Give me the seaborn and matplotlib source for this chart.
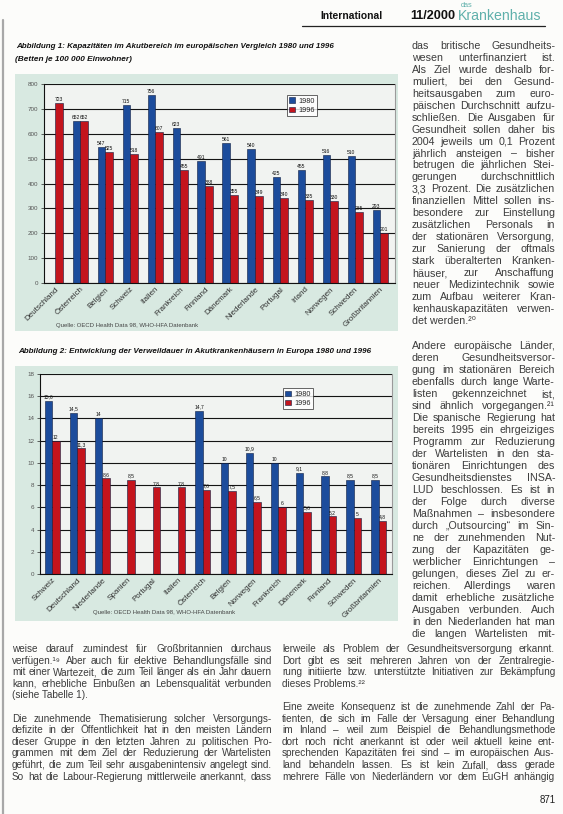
import numpy as np
import pandas as pd
import seaborn as sns
import matplotlib
matplotlib.use("Agg")
import matplotlib.pyplot as plt
from matplotlib.patches import Rectangle, Patch
from matplotlib.lines import Line2D
from matplotlib.font_manager import FontProperties

# ---------------- data ----------------
years = ["1980", "1996"]

countries1 = ["Deutschland", "Österreich", "Belgien", "Schweiz", "Italien", "Frankreich",
              "Finnland", "Dänemark", "Niederlande", "Portugal", "Irland", "Norwegen",
              "Schweden", "Großbritannien"]
beds_1980 = [np.nan, 652, 547, 715, 756, 623, 491, 561, 540, 425, 455, 516, 510, 293]
beds_1996 = [723, 652, 525, 518, 607, 455, 388, 355, 349, 340, 335, 330, 285, 201]
yticks1 = list(range(0, 801, 100))

countries2 = ["Schweiz", "Deutschland", "Niederlande", "Spanien", "Portugal", "Italien",
              "Österreich", "Belgien", "Norwegen", "Frankreich", "Dänemark", "Finnland",
              "Schweden", "Großbritannien"]
los_1980 = [15.6, 14.5, 14.0, np.nan, np.nan, np.nan, 14.7, 10.0, 10.9, 10.0, 9.1, 8.8, 8.5, 8.5]
los_1996 = [12.0, 11.3, 8.6, 8.5, 7.8, 7.8, 7.6, 7.5, 6.5, 6.0, 5.6, 5.2, 5.0, 4.8]
yticks2 = list(range(0, 19, 2))

title1 = "Abbildung 1: Kapazitäten im Akutbereich im europäischen Vergleich 1980 und 1996"
subtitle1 = "(Betten je 100 000 Einwohner)"
title2 = "Abbildung 2: Entwicklung der Verweildauer in Akutkrankenhäusern in Europa 1980 und 1996"
source1 = "Quelle: OECD Health Data 98, WHO-HFA Datenbank"
source2 = "Quelle: OECD Health Data 98, WHO-HFA Datenbank"

col_right_1 = [
    "das britische Gesundheits-",
    "wesen unterfinanziert ist.",
    "Als Ziel wurde deshalb for-",
    "muliert, bei den Gesund-",
    "heitsausgaben zum euro-",
    "päischen Durchschnitt aufzu-",
    "schließen. Die Ausgaben für",
    "Gesundheit sollen daher bis",
    "2004 jeweils um 0,1 Prozent",
    "jährlich ansteigen – bisher",
    "betrugen die jährlichen Stei-",
    "gerungen durchschnittlich",
    "3,3 Prozent. Die zusätzlichen",
    "finanziellen Mittel sollen ins-",
    "besondere zur Einstellung",
    "zusätzlichen Personals in",
    "der stationären Versorgung,",
    "zur Sanierung der oftmals",
    "stark überalterten Kranken-",
    "häuser, zur Anschaffung",
    "neuer Medizintechnik sowie",
    "zum Aufbau weiterer Kran-",
    "kenhauskapazitäten verwen-",
    "det werden.²⁰",
]
col_right_2 = [
    "Andere europäische Länder,",
    "deren Gesundheitsversor-",
    "gung im stationären Bereich",
    "ebenfalls durch lange Warte-",
    "listen gekennzeichnet ist,",
    "sind ähnlich vorgegangen.²¹",
    "Die spanische Regierung hat",
    "bereits 1995 ein ehrgeiziges",
    "Programm zur Reduzierung",
    "der Wartelisten in den sta-",
    "tionären Einrichtungen des",
    "Gesundheitsdienstes INSA-",
    "LUD beschlossen. Es ist in",
    "der Folge durch diverse",
    "Maßnahmen – insbesondere",
    "durch „Outsourcing“ im Sin-",
    "ne der zunehmenden Nut-",
    "zung der Kapazitäten ge-",
    "werblicher Einrichtungen –",
    "gelungen, dieses Ziel zu er-",
    "reichen. Allerdings waren",
    "damit erhebliche zusätzliche",
    "Ausgaben verbunden. Auch",
    "in den Niederlanden hat man",
    "die langen Wartelisten mit-",
]
bottom_left = [
    "weise darauf zumindest für Großbritannien durchaus",
    "verfügen.¹⁹ Aber auch für elektive Behandlungsfälle sind",
    "mit einer Wartezeit, die zum Teil länger als ein Jahr dauern",
    "kann, erhebliche Einbußen an Lebensqualität verbunden",
    "(siehe Tabelle 1).",
    "",
    "Die zunehmende Thematisierung solcher Versorgungs-",
    "defizite in der Öffentlichkeit hat in den meisten Ländern",
    "dieser Gruppe in den letzten Jahren zu politischen Pro-",
    "grammen mit dem Ziel der Reduzierung der Wartelisten",
    "geführt, die zum Teil sehr ausgabenintensiv angelegt sind.",
    "So hat die Labour-Regierung mittlerweile anerkannt, dass",
]
bottom_right = [
    "lerweile als Problem der Gesundheitsversorgung erkannt.",
    "Dort gibt es seit mehreren Jahren von der Zentralregie-",
    "rung initiierte bzw. unterstützte Initiativen zur Bekämpfung",
    "dieses Problems.²²",
    "",
    "Eine zweite Konsequenz ist die zunehmende Zahl der Pa-",
    "tienten, die sich im Falle der Versagung einer Behandlung",
    "im Inland – weil zum Beispiel die Behandlungsmethode",
    "dort noch nicht anerkannt ist oder weil aktuell keine ent-",
    "sprechenden Kapazitäten frei sind – im europäischen Aus-",
    "land behandeln lassen. Es ist kein Zufall, dass gerade",
    "mehrere Fälle von Niederländern vor dem EuGH anhängig",
]

# ---------------- style ----------------
BLUE = "#1c4c9c"
RED = "#c4141d"
PANEL = "#d8e9e1"
PLOTBG = "#f1f3f1"
TXT = "#3c3c3c"
FAM = ["Liberation Sans", "DejaVu Sans"]

sns.set_theme(style="white")
plt.rcParams["font.family"] = FAM

W, H = 563, 814
fig = plt.figure(figsize=(W / 100, H / 100), dpi=100)
fig.patch.set_facecolor("#fcfcfa")
renderer = fig.canvas.get_renderer()


def fx(x):
    return x / W


def fy(y):
    return 1 - y / H


def text_width(s, size, weight="normal", style="normal"):
    prop = FontProperties(family=FAM, size=size, weight=weight, style=style)
    w, h, d = renderer.get_text_width_height_descent(s, prop, ismath=False)
    return w


def put(s, x, y, size=7, width=None, weight="normal", style="normal", color=TXT,
        ha="left", va="baseline"):
    if width is not None:
        size = size * width / text_width(s, size, weight, style)
    fig.text(fx(x), fy(y), s, size=size, weight=weight, style=style, color=color,
             ha=ha, va=va, family=FAM)


def paragraph(lines, x0, x1, y0, dy, size, ragged_last=True, color=TXT):
    n = len(lines)
    for i, line in enumerate(lines):
        y = y0 + i * dy
        if line == "":
            continue
        words = line.split(" ")
        end_par = (i == n - 1 and ragged_last) or (i < n - 1 and lines[i + 1] == "")
        if end_par or len(words) == 1:
            put(line, x0, y, size=size, color=color)
            continue
        s = size
        ws = [text_width(w, s) for w in words]
        total = sum(ws)
        avail = (x1 - x0) - 1.8 * (len(words) - 1)
        if total > avail:
            s = size * avail / total
            ws = [w * s / size for w in ws]
            total = sum(ws)
        gap = ((x1 - x0) - total) / (len(words) - 1)
        x = x0
        for w, wd in zip(words, ws):
            put(w, x, y, size=s, color=color)
            x += wd + gap


def panel(x0, y0, x1, y1):
    fig.patches.append(Rectangle((fx(x0), fy(y1)), (x1 - x0) / W, (y1 - y0) / H,
                                 transform=fig.transFigure, facecolor=PANEL,
                                 edgecolor="none", zorder=-5))


def draw_chart(ax, countries, v80, v96, yticks, ymax, fmt, xlim, legend_anchor):
    n = len(countries)
    df = pd.DataFrame({
        "Land": countries * 2,
        "Jahr": [years[0]] * n + [years[1]] * n,
        "Wert": list(v80) + list(v96),
    }).dropna()
    sns.barplot(data=df, x="Land", y="Wert", hue="Jahr", order=countries,
                hue_order=years, palette=[BLUE, RED], width=0.6, saturation=1,
                edgecolor="#0e1c40", linewidth=0.4, errorbar=None, legend=False, ax=ax)
    ax.set_facecolor(PLOTBG)
    ax.set_ylim(0, ymax)
    ax.set_xlim(*xlim)
    ax.set_yticks(yticks)
    ax.set_yticklabels([str(t) for t in yticks], fontsize=4.5, color="#555555")
    ax.yaxis.grid(True, color="#141414", linewidth=0.8)
    ax.set_axisbelow(True)
    ax.tick_params(axis="y", length=2, width=0.5, pad=2, left=True)
    ax.tick_params(axis="x", length=0, pad=2)
    ax.set_xticks(range(n))
    ax.set_xticklabels(countries, rotation=45, ha="right", rotation_mode="anchor",
                       fontsize=5.8, color="#303030")
    ax.set_xlabel("")
    ax.set_ylabel("")
    for side in ["left", "bottom"]:
        ax.spines[side].set_color("#111111")
        ax.spines[side].set_linewidth(0.8)
    ax.spines["right"].set_color("#9a9a9a")
    ax.spines["right"].set_linewidth(0.8)
    ax.spines["top"].set_visible(False)
    for cont in ax.containers:
        ax.bar_label(cont, labels=[fmt(v) for v in cont.datavalues], padding=0.8,
                     fontsize=3.6, color="#111111")
    handles = [Patch(facecolor=BLUE, edgecolor="#0e1c40", linewidth=0.4),
               Patch(facecolor=RED, edgecolor="#0e1c40", linewidth=0.4)]
    leg = ax.legend(handles, years, loc="upper left", bbox_to_anchor=legend_anchor,
                    fontsize=5.2, frameon=True, fancybox=False, handlelength=0.8,
                    handleheight=0.8, handletextpad=0.4, borderpad=0.35,
                    labelspacing=0.25, borderaxespad=0)
    leg.get_frame().set_edgecolor("#222222")
    leg.get_frame().set_linewidth(0.6)
    leg.get_frame().set_facecolor("white")


# ---------------- header ----------------
put("International", 320, 19, size=8, width=62, weight="bold", color="#111111")
put("11/2000", 410, 19, size=8, width=45, weight="bold", color="#111111")
put("das", 461, 7, size=5, width=12, color="#5fb0ab")
put("Krankenhaus", 458, 20, size=13, width=83, color="#5fb0ab")
fig.add_artist(Line2D([fx(302), fx(545)], [fy(26), fy(26)], color="#222222", lw=0.9))
fig.add_artist(Line2D([fx(3), fx(3)], [fy(20), fy(814)], color="#a8a8a8", lw=1.6))

# ---------------- chart 1 ----------------
put(title1, 16, 48, size=6, width=317, weight="bold", style="italic", color="#111111")
put(subtitle1, 15, 61, size=6, width=118, weight="bold", style="italic", color="#111111")
panel(15, 74, 398, 331)
ax1 = fig.add_axes([fx(44), fy(283), (395 - 44) / W, (283 - 84) / H])
draw_chart(ax1, countries1, beds_1980, beds_1996, yticks1, 800,
           lambda v: f"{v:.0f}", (-0.44, 13.6), (0.692, 0.945))
put(source1, 56, 327, size=4.3, color="#444444")

# ---------------- chart 2 ----------------
put(title2, 18, 353, size=6, width=355, weight="bold", style="italic", color="#111111")
panel(15, 366, 398, 621)
ax2 = fig.add_axes([fx(40), fy(574), (392 - 40) / W, (574 - 374) / H])
draw_chart(ax2, countries2, los_1980, los_1996, yticks2, 18,
           lambda v: f"{v:.1f}".replace(".", ",").replace(",0", ""),
           (-0.48, 13.52), (0.69, 0.93))
put(source2, 93, 614, size=4.3, color="#444444")

# ---------------- body text ----------------
paragraph(col_right_1, 412, 555, 49, 11.95, 7.7)
paragraph(col_right_2, 412, 555, 349, 12.0, 7.7, ragged_last=False)
paragraph(bottom_left, 12, 272, 652, 11.6, 7.2, ragged_last=False)
paragraph(bottom_right, 282, 555, 652, 11.6, 7.2, ragged_last=False)
put("871", 540, 803, size=7, color="#222222")

fig.savefig("out.png", dpi=100, facecolor=fig.get_facecolor())
